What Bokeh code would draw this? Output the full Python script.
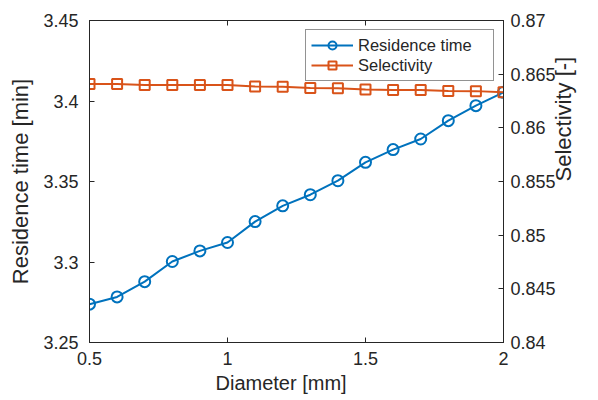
import math
from bokeh.plotting import figure
from bokeh.models import Range1d, LinearAxis, FixedTicker, Legend, LegendItem, Title
from bokeh.embed import file_html
from bokeh.resources import INLINE

# ---- data ----
diameter = [0.5, 0.6, 0.7, 0.8, 0.9, 1.0, 1.1, 1.2, 1.3, 1.4, 1.5, 1.6, 1.7, 1.8, 1.9, 2.0]
residence_time = [3.2738, 3.2783, 3.2878, 3.3003, 3.3069, 3.3121, 3.3251, 3.3349,
                  3.3418, 3.3505, 3.3619, 3.3698, 3.3764, 3.3878, 3.3971, 3.4054]
selectivity = [0.86409, 0.86408, 0.86400, 0.86400, 0.86399, 0.86398, 0.86385, 0.86383,
               0.86370, 0.86368, 0.86356, 0.86353, 0.86352, 0.86344, 0.86342, 0.86331]

x_ticks = [0.5, 1.0, 1.5, 2.0]
x_tick_labels = ["0.5", "1", "1.5", "2"]
left_ticks = [3.25, 3.3, 3.35, 3.4, 3.45]
left_tick_labels = ["3.25", "3.3", "3.35", "3.4", "3.45"]
right_ticks = [0.84, 0.845, 0.85, 0.855, 0.86, 0.865, 0.87]
right_tick_labels = ["0.84", "0.845", "0.85", "0.855", "0.86", "0.865", "0.87"]

BLUE = "#0072BD"
ORANGE = "#D95319"
INK = "#262626"
FONT = "Liberation Sans"

p = figure(width=598, height=400, output_backend="svg", toolbar_location=None,
           x_range=Range1d(0.5, 2.0), y_range=Range1d(3.25, 3.45),
           min_border_left=89, min_border_right=95, min_border_top=20, min_border_bottom=58)
p.extra_y_ranges = {"sel": Range1d(0.84, 0.87)}
p.xgrid.visible = False
p.ygrid.visible = False
p.outline_line_color = INK
p.background_fill_color = "white"
p.border_fill_color = "white"

bottom_axis = p.below[0]
left_axis = p.left[0]
right_axis = LinearAxis(y_range_name="sel")
top_axis = LinearAxis()
p.add_layout(right_axis, "right")
p.add_layout(top_axis, "above")


def style(ax, ticks, labels):
    ax.ticker = FixedTicker(ticks=ticks)
    ax.major_label_overrides = {t: l for t, l in zip(ticks, labels)}
    ax.axis_line_color = INK
    ax.axis_line_width = 1
    ax.major_tick_line_color = INK
    ax.major_tick_in = 5
    ax.major_tick_out = 0
    ax.minor_tick_line_color = None
    ax.major_label_text_font = FONT
    ax.major_label_text_font_size = "18px"
    ax.major_label_text_color = INK
    ax.axis_label_text_font = FONT
    ax.axis_label_text_font_style = "normal"
    ax.axis_label_text_color = INK


style(bottom_axis, x_ticks, x_tick_labels)
style(left_axis, left_ticks, left_tick_labels)
style(right_axis, right_ticks, right_tick_labels)
style(top_axis, x_ticks, ["" for _ in x_ticks])
top_axis.major_label_text_font_size = "8px"
top_axis.major_label_standoff = 0

bottom_axis.major_label_standoff = 9

# x label (MATLAB places it slightly left of centre)
xlabel = Title(text="Diameter [mm]", align="left", offset=126, standoff=4,
               text_font=FONT, text_font_size="20px", text_font_style="normal",
               text_color=INK)
p.add_layout(xlabel, "below")

left_axis.axis_label = "Residence time [min]"
left_axis.axis_label_text_font_size = "22px"
left_axis.major_label_standoff = 11
left_axis.axis_label_standoff = 7

right_axis.axis_label = "Selectivity [-]"
right_axis.axis_label_text_font_size = "22px"
right_axis.axis_label_orientation = math.pi / 2
right_axis.axis_label_text_baseline = "top"
right_axis.major_label_standoff = 7
right_axis.axis_label_standoff = 5

l1 = p.line(diameter, residence_time, line_color=BLUE, line_width=2)
m1 = p.scatter(diameter, residence_time, marker="circle", size=11, line_color=BLUE,
               line_width=2, fill_alpha=0)
l2 = p.line(diameter, selectivity, line_color=ORANGE, line_width=2, y_range_name="sel")
m2 = p.scatter(diameter, selectivity, marker="square", size=10, line_color=ORANGE,
               line_width=2, fill_alpha=0, y_range_name="sel")

legend = Legend(items=[LegendItem(label="Residence time", renderers=[l1, m1]),
                       LegendItem(label="Selectivity", renderers=[l2, m2])],
                location="top_right", margin=9, padding=5, spacing=0,
                glyph_width=42, glyph_height=20, label_height=20, label_width=130,
                label_standoff=5, label_text_font=FONT, label_text_font_size="16.5px",
                label_text_color=INK, border_line_color=INK, border_line_width=1,
                background_fill_color="white", background_fill_alpha=1)
p.add_layout(legend, "center")

open("out.html", "w").write(file_html(p, INLINE))
